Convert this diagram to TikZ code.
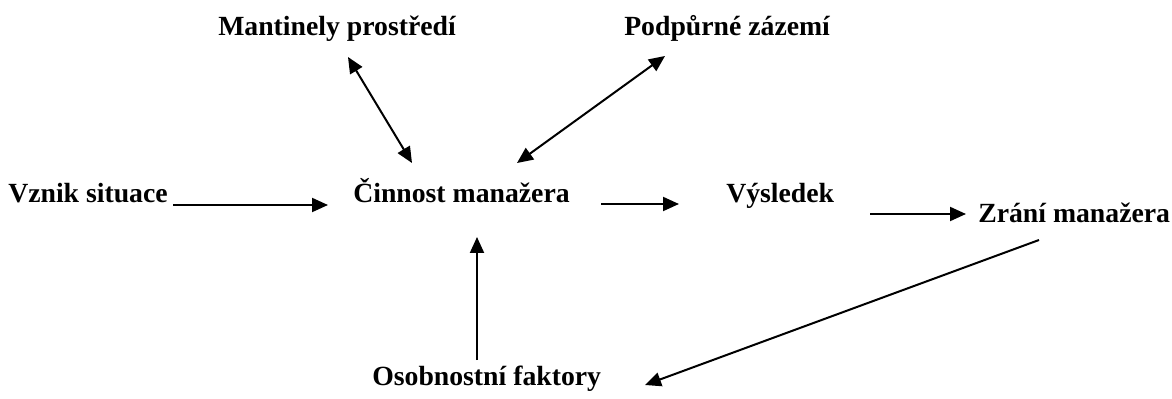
\documentclass[tikz,border=0pt]{standalone}
\usepackage{fontspec}
\setmainfont{Liberation Serif}
\usetikzlibrary{arrows.meta}
\begin{document}
\begin{tikzpicture}[x=0.75pt,y=-0.75pt,
  lbl/.style={font=\fontsize{20.8pt}{24pt}\selectfont\bfseries, inner sep=0pt, anchor=base west},
  conn/.style={line width=1.5pt, -{Triangle[length=12pt,width=10.5pt]}},
  biconn/.style={line width=1.5pt, {Triangle[length=12pt,width=10.5pt]}-{Triangle[length=12pt,width=10.5pt]}},
  plain/.style={line width=1.5pt}]
\useasboundingbox (0,0) rectangle (1172,399);

% labels
\node[lbl] (mant) at (218,36) {Mantinely prostředí};
\node[lbl] (podp) at (624,36) {Podpůrné zázemí};
\node[lbl] (vzn)  at (8,203)  {Vznik situace};
\node[lbl] (cin)  at (353,203) {Činnost manažera};
\node[lbl] (vys)  at (726,203) {Výsledek};
\node[lbl] (zra)  at (978,223) {Zrání manažera};
\node[lbl] (oso)  at (372,385) {Osobnostní faktory};

% connector end points
\coordinate (vznE) at (173,205);
\coordinate (cinW) at (328,205);
\coordinate (cinE) at (601,204);
\coordinate (vysW) at (679,204);
\coordinate (vysE) at (870,214);
\coordinate (zraW) at (966,214);
\coordinate (mantS) at (348,57);
\coordinate (cinNW) at (412,163);
\coordinate (podpS) at (665,56);
\coordinate (cinNE) at (517,163);
\coordinate (osoN) at (477,360);
\coordinate (cinS) at (477,237);
\coordinate (zraS) at (1039,240);
\coordinate (osoE) at (645,385);

% connectors
\draw[conn] (vznE) -- (cinW);
\draw[conn] (cinE) -- (vysW);
\draw[conn] (vysE) -- (zraW);
\draw[biconn] (mantS) -- (cinNW);
\draw[biconn] (podpS) -- (cinNE);
\draw[conn] (osoN) -- (cinS);
\draw[conn] (zraS) -- (osoE);
\end{tikzpicture}
\end{document}
